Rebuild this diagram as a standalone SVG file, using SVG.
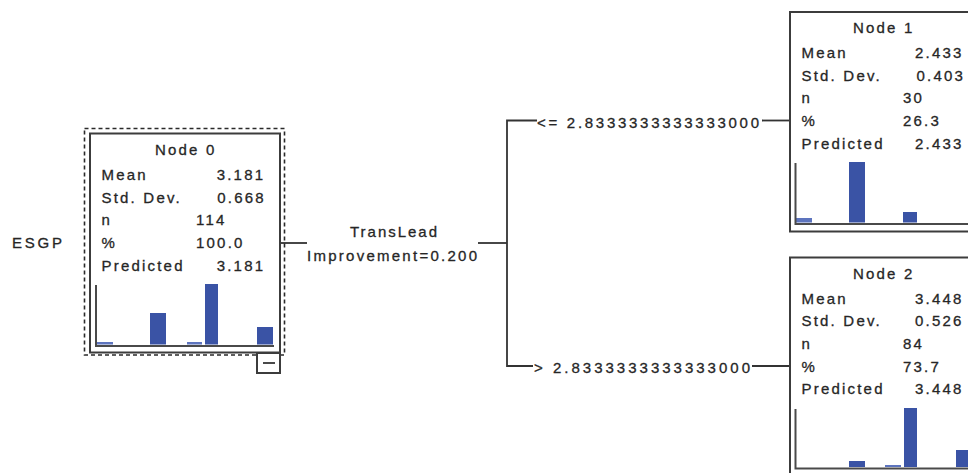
<svg xmlns="http://www.w3.org/2000/svg" width="968" height="473" viewBox="0 0 968 473">
<style>
.t{font-family:"Liberation Sans",Arial,sans-serif;font-size:15px;letter-spacing:2.2px;fill:#262626;stroke:#262626;stroke-width:0.3}
.c{font-family:"Liberation Sans",Arial,sans-serif;font-size:15px;fill:#262626;stroke:#262626;stroke-width:0.3}
.box{fill:#fff;stroke:#3c3c3c;stroke-width:2}
.focus{fill:none;stroke:#2a2a2a;stroke-width:1.6;stroke-dasharray:4 3}
.axis{stroke:#4a4a4a;stroke-width:2;fill:none}
.bar{fill:#3a53a5}
.thin{fill:#5d74be}
.conn{stroke:#333;stroke-width:1.8;fill:none}
</style>
<rect width="968" height="473" fill="#fff"/>
<text class="c" x="12" y="248" textLength="50" lengthAdjust="spacing">ESGP</text>

<g id="connectors">
<line class="conn" x1="280" y1="243" x2="307" y2="243"/>
<line class="conn" x1="478" y1="243" x2="507" y2="243"/>
<path class="conn" d="M537,120.5 H507 V366 H533"/>
<line class="conn" x1="762" y1="120.5" x2="790" y2="120.5"/>
<line class="conn" x1="752" y1="366" x2="790" y2="366"/>
<text class="c" x="350" y="237" textLength="87" lengthAdjust="spacing">TransLead</text>
<text class="c" x="307" y="260.5" textLength="170" lengthAdjust="spacing">Improvement=0.200</text>
<text class="c" x="537" y="127.5" textLength="222" lengthAdjust="spacing">&lt;= 2.8333333333333000</text>
<text class="c" x="534" y="372.5" textLength="216" lengthAdjust="spacing">&gt; 2.8333333333333000</text>
</g>

<g id="node0">
<rect class="focus" x="84.5" y="128.5" width="200" height="226.5"/>
<rect class="box" x="90" y="133.5" width="190" height="219"/>
<text class="t" x="155" y="155">Node 0</text>
<text class="t" x="101.5" y="180">Mean</text>
<text class="t" x="216.7" y="180">3.181</text>
<text class="t" x="101.5" y="202.7">Std. Dev.</text>
<text class="t" x="217.3" y="202.7">0.668</text>
<text class="t" x="101.5" y="225.4">n</text>
<text class="t" x="196" y="225.4">114</text>
<text class="t" x="101.5" y="248.1">%</text>
<text class="t" x="196" y="248.1">100.0</text>
<text class="t" x="101.5" y="270.8">Predicted</text>
<text class="t" x="216.7" y="270.8">3.181</text>
<rect class="thin" x="97" y="342" width="16" height="2.5"/>
<rect class="bar" x="150" y="313" width="16" height="31.5"/>
<rect class="thin" x="187" y="342" width="15" height="2.5"/>
<rect class="bar" x="205" y="284" width="13" height="60.5"/>
<rect class="bar" x="257" y="327" width="16" height="17.5"/>
<path class="axis" d="M96,285 V346 H274"/>
<rect class="box" x="257" y="353" width="23" height="20"/>
<line class="axis" x1="263" y1="363" x2="275" y2="363"/>
</g>

<g id="node1">
<rect class="box" x="790" y="12" width="200" height="219.5"/>
<text class="t" x="853" y="32.5">Node 1</text>
<text class="t" x="801.5" y="58">Mean</text>
<text class="t" x="915" y="58">2.433</text>
<text class="t" x="801.5" y="80.7">Std. Dev.</text>
<text class="t" x="916.5" y="80.7">0.403</text>
<text class="t" x="801.5" y="103.4">n</text>
<text class="t" x="903" y="103.4">30</text>
<text class="t" x="801.5" y="126.1">%</text>
<text class="t" x="903" y="126.1">26.3</text>
<text class="t" x="801.5" y="148.8">Predicted</text>
<text class="t" x="915" y="148.8">2.433</text>
<rect class="thin" x="796" y="218" width="16" height="4.5"/>
<rect class="bar" x="849" y="162" width="16" height="60.5"/>
<rect class="bar" x="903" y="212" width="14" height="10.5"/>
<path class="axis" d="M795.5,163 V224 H968"/>
</g>

<g id="node2">
<rect class="box" x="790" y="257.5" width="200" height="220"/>
<text class="t" x="853" y="278.5">Node 2</text>
<text class="t" x="801.5" y="303.5">Mean</text>
<text class="t" x="915" y="303.5">3.448</text>
<text class="t" x="801.5" y="326.2">Std. Dev.</text>
<text class="t" x="915" y="326.2">0.526</text>
<text class="t" x="801.5" y="348.9">n</text>
<text class="t" x="903" y="348.9">84</text>
<text class="t" x="801.5" y="371.6">%</text>
<text class="t" x="903" y="371.6">73.7</text>
<text class="t" x="801.5" y="394.3">Predicted</text>
<text class="t" x="915" y="394.3">3.448</text>
<rect class="bar" x="849" y="461" width="16" height="6"/>
<rect class="thin" x="885" y="465" width="16" height="2"/>
<rect class="bar" x="904" y="408" width="13" height="59"/>
<rect class="bar" x="956" y="450" width="14" height="17"/>
<path class="axis" d="M795.5,409 V468.5 H968"/>
</g>
</svg>
